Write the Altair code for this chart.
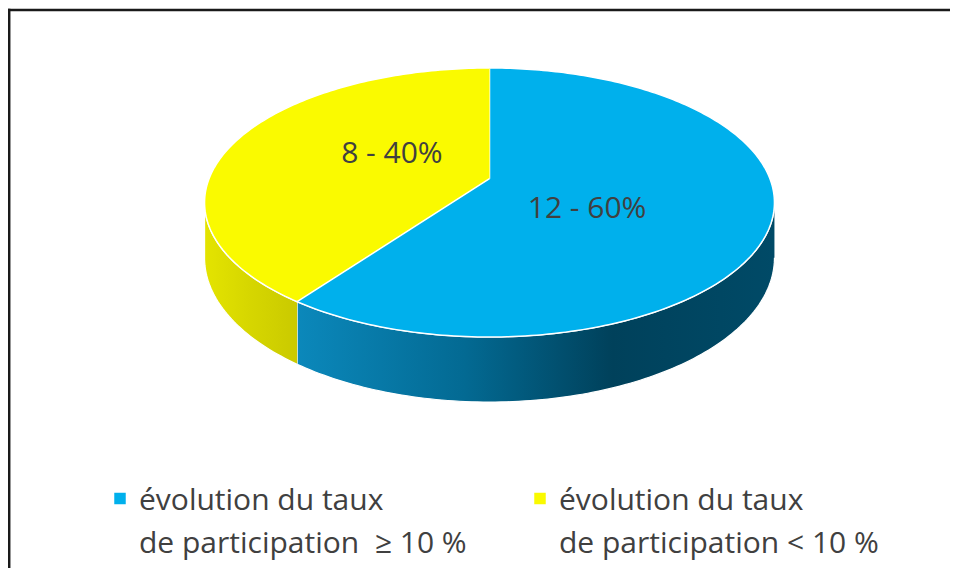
import math
import numpy as np
import pandas as pd
import altair as alt

# ---- data ----
categories = ["évolution du taux\nde participation\u00a0 ≥ 10 %",
              "évolution du taux\nde participation < 10 %"]
counts = [12, 8]
shares = [60, 40]
top_colors = ["#00b0ec", "#fafa00"]

# ---- style / layout constants ----
PERSP = 0.177          # perspective strength of the 3-D view
XR = 0.984             # horizontal radius factor
YR = 0.9688            # vertical radius factor
YC = 0.1807            # vertical position of the disc centre
DEPTH = 0.398          # thickness of the disc
STEP = 1.0             # angular resolution of the outline (degrees)
FONT = "Open Sans"
TEXT_COLOR = "#404040"
W, H = 942, 560
side_gradients = [
    alt.LinearGradient(gradient="linear", x1=0, x2=1, y1=0, y2=0, stops=[
        alt.GradientStop(color="#0b88bb", offset=0),
        alt.GradientStop(color="#036a93", offset=0.35),
        alt.GradientStop(color="#00415b", offset=0.66),
        alt.GradientStop(color="#004a67", offset=1)]),
    alt.LinearGradient(gradient="linear", x1=0, x2=1, y1=0, y2=0, stops=[
        alt.GradientStop(color="#e4e400", offset=0),
        alt.GradientStop(color="#d6d600", offset=0.5),
        alt.GradientStop(color="#caca00", offset=1)]),
]


def project(theta_deg, drop=0.0):
    t = math.radians(theta_deg)
    s = 1.0 + PERSP * math.cos(t)
    return XR * math.sin(t) / s, YC + YR * math.cos(t) / s - drop / s


# ---- derive the pie geometry from the values ----
total = sum(counts)
theta_edge = math.degrees(math.acos(-PERSP))  # silhouette of the disc
top_rows, side_rows, label_rows = [], [], []
start = 0.0
for cat, n, p in zip(categories, counts, shares):
    span = 360.0 * n / total
    end = start + span
    ang = np.linspace(start, end, int(math.ceil(span / STEP)) + 1)
    pts = [(0.0, YC)] + [project(a) for a in ang]
    for i, (x, y) in enumerate(pts):
        top_rows.append({"cat": cat, "i": i, "x": x, "y": y})
    a0, a1 = max(start, theta_edge), min(end, 360.0 - theta_edge)
    if a1 > a0:
        arc = np.linspace(a0, a1, int(math.ceil((a1 - a0) / STEP)) + 1)
        poly = [project(a) for a in arc] + [project(a, DEPTH) for a in arc[::-1]]
        for i, (x, y) in enumerate(poly):
            side_rows.append({"cat": cat, "i": i, "x": x, "y": y})
    mid = math.radians(start + span / 2)
    label_rows.append({"cat": cat, "text": f"{n} - {p}%",
                       "x": 0.36 * math.sin(mid), "y": 0.655 * math.cos(mid) + 0.16})
    start = end

top_df = pd.DataFrame(top_rows)
side_df = pd.DataFrame(side_rows)
label_df = pd.DataFrame(label_rows)

xs = alt.Scale(domain=[-481.5 / 285, (W - 481.5) / 285], nice=False, zero=False)
ys = alt.Scale(domain=[(195 - H) / 134.5, 195 / 134.5], nice=False, zero=False)
cs = alt.Scale(domain=categories, range=top_colors)
X = alt.X("x:Q", scale=xs, axis=None)
Y = alt.Y("y:Q", scale=ys, axis=None)

layers = []
for cat, grad in zip(categories, side_gradients):
    d = side_df[side_df["cat"] == cat]
    if len(d):
        layers.append(
            alt.Chart(d).mark_line(filled=True, fill=grad, stroke="white",
                                   strokeWidth=1.2, interpolate="linear")
            .encode(x=X, y=Y, order=alt.Order("i:Q"))
        )

layers.append(
    alt.Chart(top_df).mark_line(filled=True, stroke="white", strokeWidth=1.5,
                                interpolate="linear", strokeJoin="round")
    .encode(x=X, y=Y, order=alt.Order("i:Q"),
            color=alt.Color("cat:N", scale=cs, legend=None))
)

layers.append(
    alt.Chart(label_df).mark_text(font=FONT, fontSize=30, color=TEXT_COLOR,
                                  align="center", baseline="middle")
    .encode(x=X, y=Y, text="text:N")
)

# ---- legend (swatch + two-line label per category) ----
legend_x = [112, 532]
for cat, lx in zip(categories, legend_x):
    ld = pd.DataFrame({"cat": [cat]})
    layers.append(
        alt.Chart(ld).mark_square(size=132, opacity=1)
        .encode(x=alt.value(lx), y=alt.value(490.5),
                color=alt.Color("cat:N", scale=cs, legend=None))
    )
    layers.append(
        alt.Chart(ld).mark_text(font=FONT, fontSize=30, color=TEXT_COLOR, align="left",
                                baseline="alphabetic", lineBreak="\n", lineHeight=43)
        .encode(x=alt.value(lx + 19), y=alt.value(502), text="cat:N")
    )

# ---- frame (top and left edges visible in the reference; they run off the page) ----
one = pd.DataFrame({"k": [0]})
layers.append(alt.Chart(one).mark_rule(color="#1a1a1a", strokeWidth=2.5)
              .encode(x=alt.value(0), x2=alt.value(W + 40), y=alt.value(2), y2=alt.value(2)))
layers.append(alt.Chart(one).mark_rule(color="#1a1a1a", strokeWidth=2.5)
              .encode(x=alt.value(1.2), x2=alt.value(1.2), y=alt.value(0.8), y2=alt.value(H + 40)))

chart = (
    alt.layer(*layers)
    .properties(width=W, height=H, autosize="none", padding=0)
    .configure_view(stroke=None)
)

chart.save("out.html", embed_options={"renderer": "svg", "actions": False})
